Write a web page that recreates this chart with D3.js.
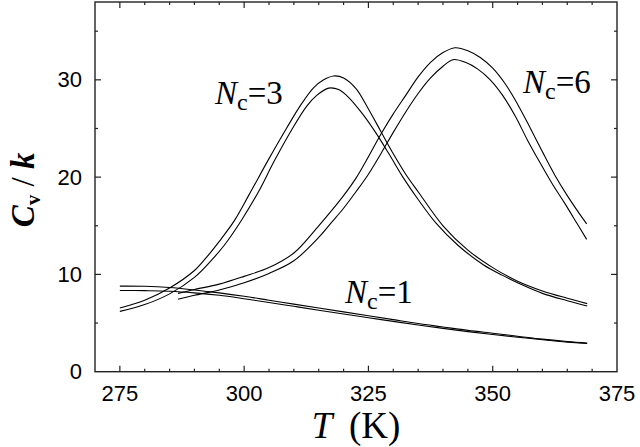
<!DOCTYPE html>
<html>
<head>
<meta charset="utf-8">
<script src="https://cdn.jsdelivr.net/npm/d3@7"></script>
<style>
  body { margin: 0; background: #fff; }
  svg { display: block; }
</style>
</head>
<body>
<div id="wrapper"></div>
<script>
// temperatures (K) and heat capacity Cv/k, two curves per Nc
const nc1A = [[275,8.8],[280,8.78],[285,8.65],[290,8.4],[295,8.1],[300,7.75],[305,7.35],[310,6.95],[315,6.55],[320,6.15],[325,5.75],[330,5.35],[335,4.95],[340,4.6],[345,4.25],[350,3.95],[355,3.65],[360,3.35],[365,3.1],[369,2.95]]
const nc1B = [[275,8.35],[280,8.33],[285,8.27],[290,8.1],[295,7.85],[300,7.5],[305,7.12],[310,6.72],[315,6.32],[320,5.93],[325,5.55],[330,5.17],[335,4.8],[340,4.45],[345,4.12],[350,3.82],[355,3.55],[360,3.28],[365,3.04],[369,2.9]]

const nc3A = [[275,6.55],[280,7.35],[285,8.6],[290,10.4],[292.5,11.8],[295,13.4],[298,15.5],[301,18.2],[305,21.9],[308.5,25.0],[311.5,27.5],[314,29.2],[316,30.0],[318,30.4],[320,30.2],[322.5,29.1],[325,27.0],[327.5,24.7],[330,22.4],[332.5,20.3],[335,18.5],[340,15.0],[345,12.5],[350,10.7],[355,9.3],[360,8.3],[365,7.55],[369,7.0]]
const nc3B = [[275,6.2],[280,6.9],[285,8.0],[290,9.7],[293.5,11.5],[296,13.0],[299.5,15.6],[303,18.6],[306,21.6],[309.6,24.9],[312.6,27.3],[314.6,28.4],[317,29.15],[319,29.0],[321,28.2],[323.5,26.7],[326.3,24.7],[329,22.5],[331.8,20.1],[335,17.7],[338.6,15.27],[343,13.0],[348.1,11.0],[352,9.9],[356,8.9],[360,8.05],[365,7.3],[369,6.76]]

const nc6A = [[286.7,8.05],[290,8.45],[295,9.0],[300,9.8],[305,10.7],[310,12.2],[315,15.0],[317.5,16.5],[320,18.1],[322.5,19.9],[325,22.1],[327.5,24.4],[330,26.5],[332.5,28.4],[335,30.3],[337.5,31.8],[340,32.8],[342.4,33.3],[345,33.0],[347.5,32.3],[350,31.2],[352.5,29.6],[355,27.5],[357.5,25.1],[360,22.6],[362.5,20.2],[365,18.1],[367.5,16.2],[368.9,15.2]]
const nc6B = [[286.7,7.45],[290,7.85],[295,8.4],[300,9.15],[305,10.1],[310,11.4],[315,13.8],[317.5,15.3],[320,16.8],[322.5,18.5],[325,20.3],[327.5,22.4],[330,24.6],[332.5,26.7],[335,28.6],[337.5,30.2],[340,31.4],[342,32.07],[344.5,31.8],[347,31.1],[349.5,30.0],[352,28.4],[354.5,26.3],[357,23.8],[359.5,21.5],[362,19.3],[364.5,17.3],[367,15.2],[368.9,13.6]]

const series = [nc1A, nc1B, nc3A, nc3B, nc6A, nc6B]

const xTicks = [275, 300, 325, 350, 375]
const yTicks = [0, 10, 20, 30]

const labels = [
  { n: "3", x: 215, y: 104 },
  { n: "6", x: 523, y: 93 },
  { n: "1", x: 345, y: 303 },
]

const SANS = "'Liberation Sans', Arial, Helvetica, sans-serif"
const SERIF = "'Liberation Serif', 'Times New Roman', Times, serif"

function drawChart() {
  const width = 640
  const height = 447
  const plot = { left: 95, right: 617, top: 2, bottom: 371.7 }

  const svg = d3.select("#wrapper")
    .append("svg")
      .attr("width", width)
      .attr("height", height)

  const xScale = d3.scaleLinear()
    .domain([270, 375])
    .range([plot.left, plot.right])

  const yScale = d3.scaleLinear()
    .domain([0, 38])
    .range([plot.bottom, plot.top])

  // curves
  const lineGen = d3.line()
    .x(d => xScale(d[0]))
    .y(d => yScale(d[1]))
    .curve(d3.curveCatmullRom.alpha(0.5))

  svg.append("g")
    .selectAll("path")
    .data(series)
    .join("path")
      .attr("d", lineGen)
      .attr("fill", "none")
      .attr("stroke", "#000")
      .attr("stroke-width", 1.1)

  // frame
  svg.append("rect")
      .attr("x", plot.left)
      .attr("y", plot.top)
      .attr("width", plot.right - plot.left)
      .attr("height", plot.bottom - plot.top)
      .attr("fill", "none")
      .attr("stroke", "#222")
      .attr("stroke-width", 1.4)

  // inward ticks on all four sides
  const xMinor = d3.range(275, 375, 5)
  const yMinor = d3.range(5, 38, 5)
  const ticks = svg.append("g")
      .attr("stroke", "#222")
      .attr("stroke-width", 1.2)

  xMinor.forEach(v => {
    const len = xTicks.includes(v) ? 6 : 3
    const x = xScale(v)
    ticks.append("line").attr("x1", x).attr("x2", x)
      .attr("y1", plot.bottom).attr("y2", plot.bottom - len)
    ticks.append("line").attr("x1", x).attr("x2", x)
      .attr("y1", plot.top).attr("y2", plot.top + len)
  })
  yMinor.forEach(v => {
    const len = v % 10 === 0 ? 6 : 3
    const y = yScale(v)
    ticks.append("line").attr("y1", y).attr("y2", y)
      .attr("x1", plot.left).attr("x2", plot.left + len)
    ticks.append("line").attr("y1", y).attr("y2", y)
      .attr("x1", plot.right).attr("x2", plot.right - len)
  })

  // tick labels
  svg.append("g")
    .selectAll("text")
    .data(xTicks)
    .join("text")
      .attr("x", d => xScale(d))
      .attr("y", 401)
      .attr("text-anchor", "middle")
      .style("font-family", SANS)
      .style("font-size", "22px")
      .text(d => d)

  svg.append("g")
    .selectAll("text")
    .data(yTicks)
    .join("text")
      .attr("x", 82)
      .attr("y", d => yScale(d) + 7.5)
      .attr("text-anchor", "end")
      .style("font-family", SANS)
      .style("font-size", "22px")
      .text(d => d)

  // axis titles
  const xTitle = svg.append("text")
      .attr("x", (plot.left + plot.right) / 2)
      .attr("y", 438)
      .attr("text-anchor", "middle")
      .style("font-family", SERIF)
      .style("font-size", "37px")
  xTitle.append("tspan").style("font-style", "italic").text("T")
  xTitle.append("tspan").text("\u2009 (K)")

  const yTitle = svg.append("text")
      .attr("transform", `translate(34, ${(plot.top + plot.bottom) / 2 + 3}) rotate(-90)`)
      .attr("text-anchor", "middle")
      .style("font-family", SERIF)
      .style("font-size", "33px")
      .style("font-weight", "bold")
  yTitle.append("tspan").style("font-style", "italic").text("C")
  yTitle.append("tspan").style("font-size", "21px").attr("dy", 6).text("v")
  yTitle.append("tspan").attr("dy", -6).style("font-weight", "normal").text(" / ")
  yTitle.append("tspan").style("font-style", "italic").text("k")

  // Nc labels
  labels.forEach(l => {
    const t = svg.append("text")
        .attr("x", l.x)
        .attr("y", l.y)
        .style("font-family", SERIF)
        .style("font-size", "33px")
    t.append("tspan").style("font-style", "italic").text("N")
    t.append("tspan").style("font-size", "24px").attr("dy", 6).text("c")
    t.append("tspan").attr("dy", -6).text("=" + l.n)
  })
}
drawChart()
</script>
</body>
</html>
